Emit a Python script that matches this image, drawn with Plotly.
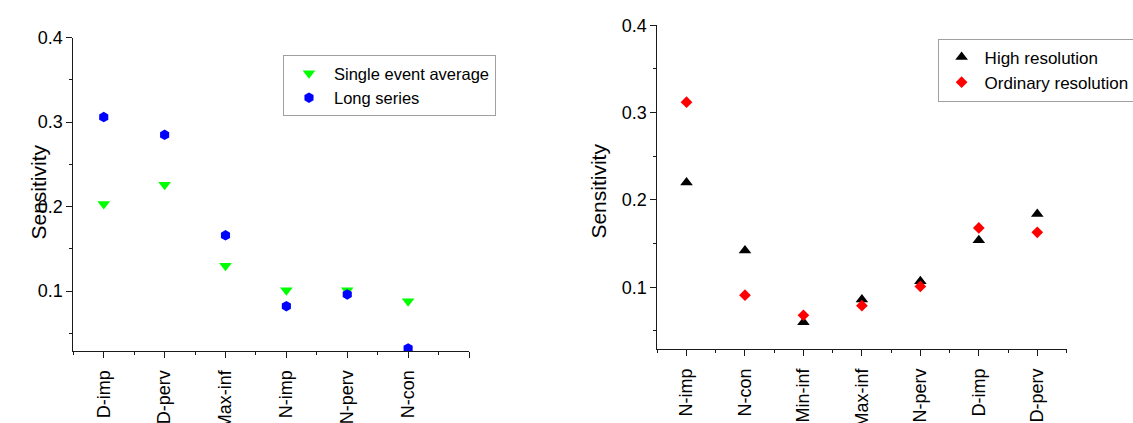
import plotly.graph_objects as go

# Left panel: event-based vs long-series sensitivity
left_categories = ["D-imp", "D-perv", "Max-inf", "N-imp", "N-perv", "N-con"]
single_event_avg = [0.203, 0.226, 0.130, 0.101, 0.101, 0.088]
long_series = [0.306, 0.285, 0.166, 0.082, 0.096, 0.032]

# Right panel: sensitivity at two rainfall resolutions
right_categories = ["N-imp", "N-con", "Min-inf", "Max-inf", "N-perv", "D-imp", "D-perv"]
high_resolution = [0.220, 0.142, 0.060, 0.086, 0.107, 0.154, 0.184]
ordinary_resolution = [0.312, 0.091, 0.068, 0.079, 0.101, 0.168, 0.163]

y_ticks = [0.1, 0.2, 0.3, 0.4]
y_minor = [0.05, 0.15, 0.25, 0.35]

W, H = 1133, 423
FONT = "Arial, Liberation Sans, sans-serif"
AXIS_COLOR = "#1a1a1a"

fig = go.Figure()

left_x = list(range(len(left_categories)))
right_x = list(range(len(right_categories)))

fig.add_trace(go.Scatter(
    x=left_x, y=single_event_avg, mode="markers", name="Single event average",
    marker=dict(symbol="triangle-down", size=11, color="#00ff00", line=dict(width=0)),
    xaxis="x", yaxis="y", legend="legend",
))
fig.add_trace(go.Scatter(
    x=left_x, y=long_series, mode="markers", name="Long series",
    marker=dict(symbol="hexagon", size=10.5, color="#0000ff", line=dict(width=0)),
    xaxis="x", yaxis="y", legend="legend",
))
fig.add_trace(go.Scatter(
    x=right_x, y=high_resolution, mode="markers", name="High resolution",
    marker=dict(symbol="triangle-up", size=11, color="#000000", line=dict(width=0)),
    xaxis="x2", yaxis="y2", legend="legend2",
))
fig.add_trace(go.Scatter(
    x=right_x, y=ordinary_resolution, mode="markers", name="Ordinary resolution",
    marker=dict(symbol="diamond", size=9, color="#ff0000", line=dict(width=0)),
    xaxis="x2", yaxis="y2", legend="legend2",
))


def x_axis(domain, anchor, cats, upper):
    vals = list(range(len(cats)))
    text = list(cats)
    if upper > len(cats) - 0.5:
        vals.append(len(cats))
        text.append("")
    return dict(
        domain=domain, anchor=anchor, range=[-0.5, upper],
        tickmode="array", tickvals=vals, ticktext=text, tickangle=-90,
        ticks="outside", ticklen=6, tickwidth=1, tickcolor=AXIS_COLOR,
        minor=dict(tickmode="array", tickvals=[i - 0.5 for i in range(len(cats) + 1)],
                   ticks="outside", ticklen=3, tickwidth=1, tickcolor=AXIS_COLOR),
        showline=True, linecolor=AXIS_COLOR, linewidth=1,
        showgrid=False, zeroline=False,
        tickfont=dict(family=FONT, size=18, color="#000"),
        ticklabelstandoff=5,
    )


def y_axis(domain, anchor):
    return dict(
        domain=domain, anchor=anchor, range=[0.029, 0.4],
        tickmode="array", tickvals=y_ticks, ticktext=[f"{v:.1f}" for v in y_ticks],
        ticks="outside", ticklen=6, tickwidth=1, tickcolor=AXIS_COLOR,
        minor=dict(tickmode="array", tickvals=y_minor, ticks="outside", ticklen=3,
                   tickwidth=1, tickcolor=AXIS_COLOR),
        showline=True, linecolor=AXIS_COLOR, linewidth=1,
        showgrid=False, zeroline=False,
        tickfont=dict(family=FONT, size=18, color="#000"),
    )


fig.update_layout(
    width=W, height=H,
    margin=dict(l=0, r=0, t=0, b=0, autoexpand=False),
    paper_bgcolor="white", plot_bgcolor="white",
    xaxis=x_axis([73.3 / W, 469 / W], "y", left_categories, 6.0),
    yaxis=y_axis([1 - 351 / H, 1 - 37.7 / H], "x"),
    xaxis2=x_axis([657.3 / W, 1066.5 / W], "y2", right_categories, 6.5),
    yaxis2=y_axis([1 - 349.3 / H, 1 - 25.3 / H], "x2"),
    legend=dict(
        x=283 / W, y=1 - 55 / H, xanchor="left", yanchor="top",
        bordercolor="#a0a0a0", borderwidth=1, bgcolor="white",
        font=dict(family=FONT, size=16.5, color="#000"), itemwidth=40,
    ),
    legend2=dict(
        x=937.6 / W, y=1 - 38.5 / H, xanchor="left", yanchor="top",
        bordercolor="#a0a0a0", borderwidth=1, bgcolor="white",
        font=dict(family=FONT, size=17, color="#000"), itemwidth=36,
    ),
    annotations=[
        dict(text="Sensitivity", x=24.5 / W, y=1 - 192.5 / H, xref="paper", yref="paper",
             textangle=-90, showarrow=False, font=dict(family=FONT, size=21, color="#000")),
        dict(text="Sensitivity", x=597.6 / W, y=1 - 191 / H, xref="paper", yref="paper",
             textangle=-90, showarrow=False, font=dict(family=FONT, size=21, color="#000")),
    ],
)

fig.write_html("out.html")
